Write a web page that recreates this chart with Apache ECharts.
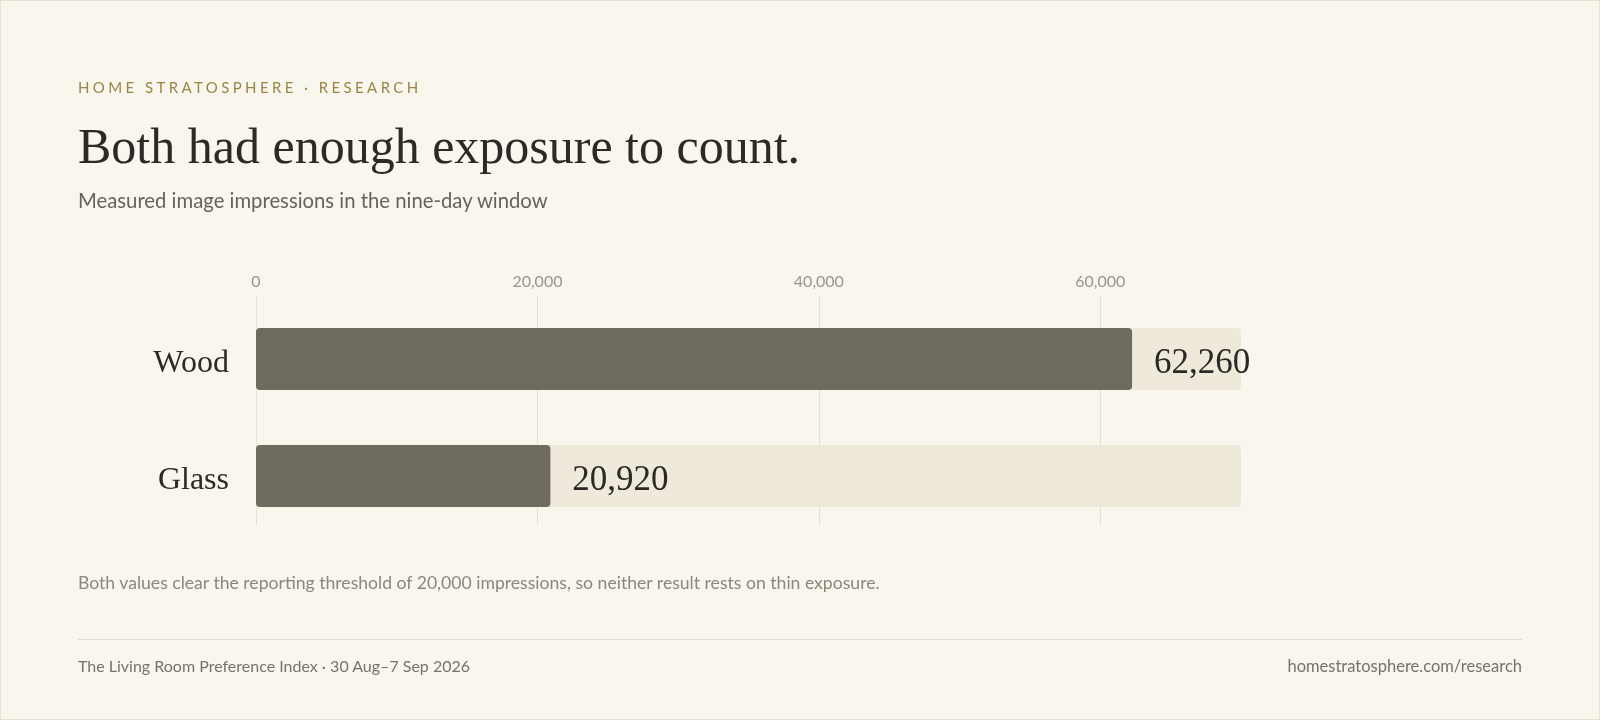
<!DOCTYPE html>
<html>
<head>
<meta charset="utf-8">
<title>Both had enough exposure to count.</title>
<script src="https://cdn.jsdelivr.net/npm/echarts@6/dist/echarts.min.js"></script>
<style>
  html, body { margin: 0; padding: 0; background: #f9f6ee; }
  #page {
    position: relative; width: 1600px; height: 720px; box-sizing: border-box;
    background: #f9f6ee; border: 1px solid #e6e1d1; overflow: hidden;
    font-family: Lato, "Noto Sans", sans-serif;
  }
  #chart { position: absolute; left: -1px; top: -1px; width: 1600px; height: 720px; }
  .txt { position: absolute; left: 77px; white-space: nowrap; }
  #kicker { top: 76px; font-size: 15px; line-height: 20px; letter-spacing: 3.4px; color: #9a8548; }
  #title { top: 115px; font-family: "Liberation Serif", "DejaVu Serif", serif; font-size: 50px; line-height: 60px; color: #2b2a26; }
  #subtitle { top: 187px; font-size: 20.3px; line-height: 24px; color: #67635a; }
  #note { top: 571px; font-size: 17.6px; line-height: 22px; color: #8b877b; }
  #rule { position: absolute; left: 77px; top: 638px; width: 1444px; height: 1px; background: #e3ded0; }
  #source { top: 655px; font-size: 16px; line-height: 20px; color: #77736a; }
  #site { top: 655px; left: auto; right: 77px; font-size: 16.5px; line-height: 20px; color: #77736a; }
</style>
</head>
<body>
<div id="page">
  <div id="chart"></div>
  <div class="txt" id="kicker">HOME STRATOSPHERE · RESEARCH</div>
  <div class="txt" id="title">Both had enough exposure to count.</div>
  <div class="txt" id="subtitle">Measured image impressions in the nine-day window</div>
  <div class="txt" id="note">Both values clear the reporting threshold of 20,000 impressions, so neither result rests on thin exposure.</div>
  <div id="rule"></div>
  <div class="txt" id="source">The Living Room Preference Index · 30 Aug–7 Sep 2026</div>
  <div class="txt" id="site">homestratosphere.com/research</div>
</div>
<script>
// data
var categories = ['Wood', 'Glass'];
var impressions = [62260, 20920];
var tickMax = 60000;   // last labelled tick
var trackMax = 70000;  // end of the pale track behind each bar
var tickStep = 20000;

function fmt(v) {
    return Number(v).toLocaleString('en-US');
}

var chart = echarts.init(document.getElementById('chart'));

// grid 0 carries the tick labels and the thin vertical guides,
// grid 1 holds the bars on the same scale (px per unit is equal)
var left = 256;
var pxPerUnit = 985 / trackMax;

var option = {
    animation: false,
    grid: [
        { left: left, width: tickMax * pxPerUnit, top: 296, height: 229 },
        { left: left, width: trackMax * pxPerUnit, top: 300.5, height: 234 }
    ],
    xAxis: [
        {
            gridIndex: 0,
            type: 'value',
            position: 'top',
            min: 0,
            max: tickMax,
            interval: tickStep,
            axisLine: { show: false },
            axisTick: { show: false },
            axisLabel: {
                margin: 6,
                fontFamily: 'Lato',
                fontSize: 16,
                color: '#9a968a',
                formatter: fmt
            },
            splitLine: { lineStyle: { color: '#e6e1d3', width: 1 } }
        },
        {
            gridIndex: 1,
            type: 'value',
            min: 0,
            max: trackMax,
            show: false
        }
    ],
    yAxis: [
        {
            gridIndex: 0,
            type: 'category',
            data: categories,
            show: false
        },
        {
            gridIndex: 1,
            type: 'category',
            data: categories,
            inverse: true,
            axisLine: { show: false },
            axisTick: { show: false },
            axisLabel: {
                margin: 27,
                fontFamily: 'Liberation Serif',
                fontSize: 32,
                // nudge the names a little below the bar centre
                verticalAlign: 'top',
                lineHeight: 10,
                color: '#2b2a26'
            }
        }
    ],
    series: [
        {
            name: 'Impressions',
            type: 'bar',
            xAxisIndex: 1,
            yAxisIndex: 1,
            data: impressions,
            barWidth: 62,
            showBackground: true,
            backgroundStyle: { color: '#efe9dc', borderRadius: 4 },
            itemStyle: { color: '#6e6a5d', borderRadius: 4 },
            label: {
                show: true,
                position: 'right',
                distance: 22,
                offset: [0, 5],
                fontFamily: 'Liberation Serif',
                fontSize: 35,
                color: '#2a2925',
                formatter: function (p) { return fmt(p.value); }
            }
        }
    ]
};

chart.setOption(option);
</script>
</body>
</html>
